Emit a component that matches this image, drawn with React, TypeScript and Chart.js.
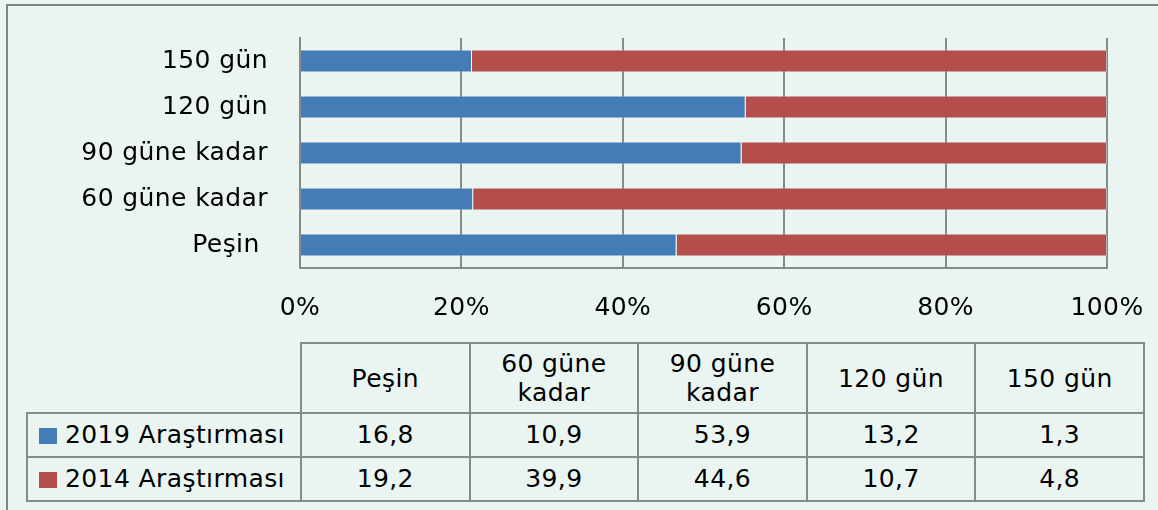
import React, { useEffect, useRef } from "react";
import { Chart, registerables } from "chart.js";

Chart.register(...registerables);

// ---- data ----
const categories = ["Peşin ", "60 güne kadar", "90 güne kadar", "120 gün", "150 gün"];
const tableHeaders = [["Peşin"], ["60 güne", "kadar"], ["90 güne", "kadar"], ["120 gün"], ["150 gün"]];
const seriesNames = ["2019 Araştırması", "2014 Araştırması"];
const survey2019 = [16.8, 10.9, 53.9, 13.2, 1.3];
const survey2014 = [19.2, 39.9, 44.6, 10.7, 4.8];
const xTickLabels = ["0%", "20%", "40%", "60%", "80%", "100%"];

const seriesColors = ["#447CB7", "#B34E4A"];
const BG = "#EAF5F2";
const LINE = "#858B89";
const FONT = "'DejaVu Sans', sans-serif";
const FS = 25;
const LS = "0.4px";

const totals = survey2019.map((v, i) => v + survey2014[i]);
const share2019 = survey2019.map((v, i) => (v / totals[i]) * 100);
const share2014 = survey2014.map((v, i) => (v / totals[i]) * 100);

const fmt = (v: number) => v.toFixed(1).replace(".", ",");

const spacingPlugin = {
  id: "letterSpacingPlugin",
  beforeUpdate(chart: any) {
    chart.ctx.letterSpacing = LS;
  },
  beforeLayout(chart: any) {
    chart.ctx.letterSpacing = LS;
  },
  beforeDraw(chart: any) {
    chart.ctx.letterSpacing = LS;
  },
};

function BarChart() {
  const ref = useRef<HTMLCanvasElement | null>(null);
  useEffect(() => {
    if (!ref.current) return;
    const chart = new Chart(ref.current, {
      type: "bar",
      data: {
        labels: categories,
        datasets: [
          {
            label: seriesNames[0],
            data: share2019,
            backgroundColor: seriesColors[0],
            borderColor: "rgba(255,255,255,0.35)",
            borderWidth: 1,
            barPercentage: 0.5,
            categoryPercentage: 1,
          },
          {
            label: seriesNames[1],
            data: share2014,
            backgroundColor: seriesColors[1],
            borderColor: "rgba(255,255,255,0.35)",
            borderWidth: 1,
            barPercentage: 0.5,
            categoryPercentage: 1,
          },
        ],
      },
      options: {
        indexAxis: "y",
        responsive: false,
        animation: false,
        layout: { padding: { left: 0, right: 51, top: 38, bottom: 0 } },
        plugins: {
          legend: { display: false },
          tooltip: { enabled: false },
        },
        scales: {
          x: {
            stacked: true,
            min: 0,
            max: 100,
            ticks: {
              stepSize: 20,
              padding: 0,
              color: "#000",
              font: { family: FONT, size: FS },
              callback: (_v: any, i: number) => xTickLabels[i],
            },
            grid: {
              color: LINE,
              lineWidth: 2,
              drawTicks: true,
              tickLength: 25,
              tickColor: "rgba(0,0,0,0)",
            },
            border: { display: true, color: LINE, width: 2 },
            afterFit: (s: any) => {
              s.height = 62;
            },
          },
          y: {
            stacked: true,
            reverse: true,
            ticks: {
              padding: 0,
              color: "#000",
              font: { family: FONT, size: FS },
            },
            grid: {
              display: true,
              drawOnChartArea: false,
              drawTicks: true,
              tickLength: 32,
              color: "rgba(0,0,0,0)",
              tickColor: "rgba(0,0,0,0)",
            },
            border: { display: true, color: LINE, width: 2 },
            afterFit: (s: any) => {
              s.width = 300;
            },
          },
        },
      } as any,
      plugins: [spacingPlugin],
    });
    return () => chart.destroy();
  }, []);
  return (
    <canvas
      ref={ref}
      width={1158}
      height={330}
      style={{ position: "absolute", left: 0, top: 0 }}
    />
  );
}

export default function App() {
  const cell: React.CSSProperties = {
    border: `2px solid ${LINE}`,
    textAlign: "center",
    verticalAlign: "middle",
    padding: 0,
  };
  const colW = (1143 - 300) / 5;
  return (
    <div
      style={{
        position: "fixed",
        left: 0,
        top: 0,
        width: 1158,
        height: 510,
        background: BG,
        overflow: "hidden",
        fontFamily: FONT,
        fontSize: FS,
        letterSpacing: LS,
        color: "#000",
      }}
    >
      <div
        style={{
          position: "absolute",
          left: 6,
          top: 4,
          width: 1300,
          height: 700,
          borderLeft: `2px solid #7F8583`,
          borderTop: `2px solid #7F8583`,
        }}
      />
      <BarChart />
      <table
        style={{
          position: "absolute",
          left: 26,
          top: 342,
          borderCollapse: "collapse",
          tableLayout: "fixed",
          width: 1143 - 26,
        }}
      >
        <colgroup>
          <col style={{ width: 300 - 26 }} />
          {tableHeaders.map((_, i) => (
            <col key={i} style={{ width: colW }} />
          ))}
        </colgroup>
        <tbody>
          <tr style={{ height: 70 }}>
            <td style={{ border: "none", padding: 0 }} />
            {tableHeaders.map((lines, i) => (
              <td key={i} style={{ ...cell, lineHeight: "29px" }}>
                {lines.map((l, j) => (
                  <div key={j}>{l}</div>
                ))}
              </td>
            ))}
          </tr>
          {[survey2019, survey2014].map((row, r) => (
            <tr key={r} style={{ height: 44 }}>
              <td
                style={{
                  ...cell,
                  textAlign: "left",
                  paddingLeft: 11,
                  whiteSpace: "nowrap",
                  lineHeight: "28px",
                }}
              >
                <span
                  style={{
                    display: "inline-block",
                    width: 18,
                    height: 16,
                    background: seriesColors[r],
                    marginRight: 8,
                    verticalAlign: "-1px",
                  }}
                />
                {seriesNames[r]}
              </td>
              {row.map((v, i) => (
                <td key={i} style={{ ...cell, lineHeight: "28px" }}>
                  {fmt(v)}
                </td>
              ))}
            </tr>
          ))}
        </tbody>
      </table>
    </div>
  );
}
